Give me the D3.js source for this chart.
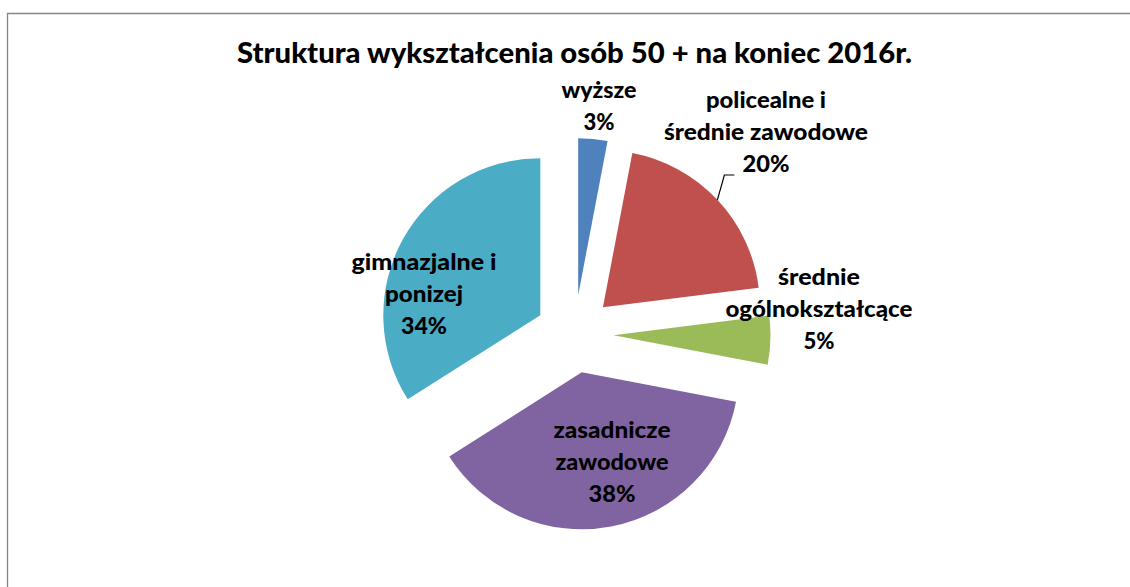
<!DOCTYPE html>
<html>
<head>
<meta charset="utf-8">
<script src="https://cdn.jsdelivr.net/npm/d3@7"></script>
<style>
  html, body { margin: 0; padding: 0; background: #fff; }
  svg { display: block; }
  text { font-family: Lato, "Open Sans", sans-serif; font-weight: 900; fill: #000; }
</style>
</head>
<body>
<svg id="chart" width="1130" height="587"></svg>
<script>
// ---- data ----
const title = "Struktura wykształcenia osób 50 + na koniec 2016r.";
const categories = ["wyższe", "policealne i średnie zawodowe", "średnie ogólnokształcące", "zasadnicze zawodowe", "gimnazjalne i ponizej"];
const values = [3, 20, 5, 38, 34];
const labelLines = [
  ["wyższe", "3%"],
  ["policealne i", "średnie zawodowe", "20%"],
  ["średnie", "ogólnokształcące", "5%"],
  ["zasadnicze", "zawodowe", "38%"],
  ["gimnazjalne i", "ponizej", "34%"]
];
const colors = ["#4F81BD", "#C0504D", "#9BBB59", "#8064A2", "#4BACC6"];

// ---- layout ----
const W = 1130, H = 587;
const cx = 574.5, cy = 334, R = 157, explode = 39;
const lineGap = 32;
// label anchor (center x, first baseline y) and measured line widths
const labelPos = [[599, 98], [766, 108], [819, 285], [612, 438], [424, 270]];
const labelWidths = [[75, 31], [120, 204, 47], [82, 187, 31], [117, 113, 47], [145, 78, 46]];

const svg = d3.select("#chart");

// chart area border (only top & left visible)
svg.append("path")
  .attr("d", `M7.5,${H + 5} V13.5 H${W + 5}`)
  .attr("fill", "none")
  .attr("stroke", "#868686")
  .attr("stroke-width", 1.3);

svg.append("text")
  .attr("x", cx).attr("y", 63)
  .attr("text-anchor", "middle")
  .attr("font-size", 28)
  .attr("textLength", 675)
  .attr("lengthAdjust", "spacingAndGlyphs")
  .text(title);

const pie = d3.pie().sort(null).startAngle(0).endAngle(2 * Math.PI).value(d => d);
const arcs = pie(values);
const arc = d3.arc().innerRadius(0).outerRadius(R);

const g = svg.append("g").attr("transform", `translate(${cx},${cy})`);

g.selectAll("path.slice")
  .data(arcs)
  .join("path")
  .attr("class", "slice")
  .attr("d", arc)
  .attr("fill", (d, i) => colors[i])
  .attr("transform", d => {
    const a = (d.startAngle + d.endAngle) / 2;
    return `translate(${explode * Math.sin(a)},${-explode * Math.cos(a)})`;
  });

// leader line for the 20% label
{
  const d = arcs[1];
  const a = (d.startAngle + d.endAngle) / 2;
  const ox = explode * Math.sin(a), oy = -explode * Math.cos(a);
  const sx = cx + ox + R * Math.sin(a), sy = cy + oy - R * Math.cos(a);
  svg.append("path")
    .attr("d", `M${sx},${sy} L${sx + 7},175 L${sx + 17},175`)
    .attr("fill", "none")
    .attr("stroke", "#000")
    .attr("stroke-width", 1.2);
}

// labels
labelLines.forEach((lines, i) => {
  const [lx, ly] = labelPos[i];
  lines.forEach((t, j) => {
    svg.append("text")
      .attr("x", lx)
      .attr("y", ly + j * lineGap)
      .attr("text-anchor", "middle")
      .attr("font-size", 23)
      .attr("textLength", labelWidths[i][j])
      .attr("lengthAdjust", "spacingAndGlyphs")
      .text(t);
  });
});
</script>
</body>
</html>
